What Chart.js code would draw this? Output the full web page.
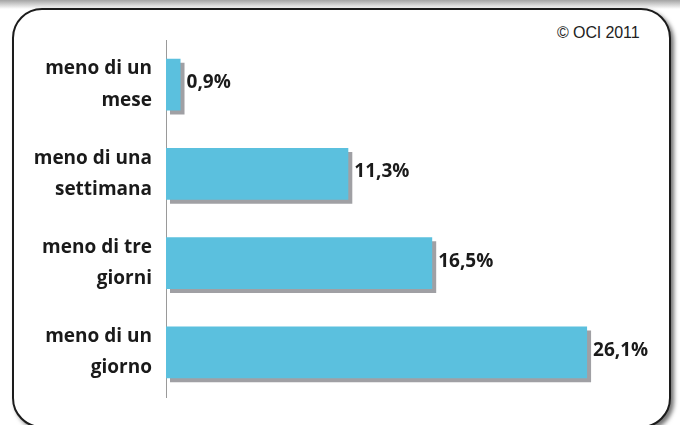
<!DOCTYPE html>
<html>
<head>
<meta charset="utf-8">
<script src="https://cdn.jsdelivr.net/npm/chart.js@4"></script>
<style>
  html, body { margin: 0; padding: 0; background: #fff; }
  body { width: 680px; height: 425px; position: relative; overflow: hidden; }
  #topshade { position: absolute; left: 0; top: 0; width: 680px; height: 9px;
    background: linear-gradient(#a4a4a4, #ffffff); }
  #frame { position: absolute; left: 12px; top: 8px; width: 655px; height: 416px;
    border: 2.5px solid #1c1c1c; border-radius: 30px; background: #fff;
    box-shadow: 3px 3px 4px rgba(0,0,0,0.55); }
  #copy { position: absolute; left: 557px; top: 24px; font-family: "Liberation Sans", Arial, sans-serif;
    font-size: 16px; color: #222; letter-spacing: -0.1px; }
  #wrap { position: absolute; left: 0; top: 0; width: 680px; height: 425px; }
</style>
</head>
<body>
<div id="topshade"></div>
<div id="frame"></div>
<div id="copy">© OCI 2011</div>
<div id="wrap"><canvas id="bar-chart" width="680" height="425"></canvas></div>
<script>
// Data
const categories = [
    ['meno di un', 'mese'],
    ['meno di una', 'settimana'],
    ['meno di tre', 'giorni'],
    ['meno di un', 'giorno'],
];
const percentages = [0.9, 11.3, 16.5, 26.1];
const valueLabels = ['0,9%', '11,3%', '16,5%', '26,1%'];

// Solid grey drop shadow under the bars
const barShadow = {
    id: 'barShadow',
    beforeDatasetsDraw(chart) {
        const ctx = chart.ctx;
        ctx.save();
        ctx.shadowColor = '#a0a0a4';
        ctx.shadowOffsetX = 4;
        ctx.shadowOffsetY = 4;
        ctx.shadowBlur = 0;
    },
    afterDatasetsDraw(chart) {
        chart.ctx.restore();
    },
};

// Value labels right of the bars
const valueText = {
    id: 'valueText',
    afterDraw(chart) {
        const ctx = chart.ctx;
        const meta = chart.getDatasetMeta(0);
        ctx.save();
        ctx.font = 'bold 19px "Open Sans", sans-serif';
        ctx.fillStyle = '#1a1a1a';
        ctx.textAlign = 'left';
        ctx.textBaseline = 'middle';
        meta.data.forEach((bar, i) => {
            ctx.fillText(valueLabels[i], bar.x + 6, bar.y - 2);
        });
        ctx.restore();
    },
};

const ctx = document.getElementById('bar-chart').getContext('2d');
new Chart(ctx, {
    type: 'bar',
    data: {
        labels: categories,
        datasets: [{
            data: percentages,
            backgroundColor: '#5bc0de',
            borderWidth: 0,
            barPercentage: 0.58,
            categoryPercentage: 1,
        }],
    },
    options: {
        indexAxis: 'y',
        responsive: false,
        animation: false,
        layout: {
            padding: { left: 0, right: 30, top: 40, bottom: 28 },
        },
        plugins: {
            legend: { display: false },
            tooltip: { enabled: false },
        },
        scales: {
            x: {
                display: false,
                min: 0,
                max: 30,
            },
            y: {
                grid: { display: false, drawTicks: false },
                border: { display: true, color: '#9a9a9a', width: 1 },
                ticks: {
                    color: '#1a1a1a',
                    padding: 14,
                    font: { family: '"Open Sans", sans-serif', size: 19, weight: 'bold', lineHeight: 1.65 },
                },
                afterFit(scale) {
                    scale.width = 166;
                    scale.paddingTop = 0;
                    scale.paddingBottom = 0;
                },
            },
        },
    },
    plugins: [barShadow, valueText],
});
</script>
</body>
</html>
